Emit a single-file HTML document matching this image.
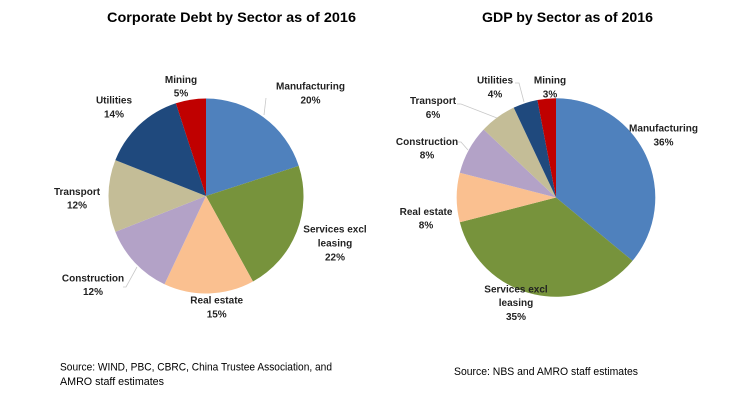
<!DOCTYPE html>
<html><head><meta charset="utf-8"><style>
html,body{margin:0;padding:0;background:#fff;}
svg{display:block;}
text{font-family:"Liberation Sans",Arial,sans-serif;fill:#000;}
.t{font-weight:bold;font-size:14px;}
.l{font-weight:bold;font-size:10px;fill:#222;}
.s{font-size:11px;}
</style></head><body>
<svg width="732" height="400" viewBox="0 0 732 400" xmlns="http://www.w3.org/2000/svg">
<rect width="732" height="400" fill="#fff"/>
<!-- Titles -->
<text class="t" x="107" y="22" textLength="249" lengthAdjust="spacingAndGlyphs">Corporate Debt by Sector as of 2016</text>
<text class="t" x="482" y="22" textLength="171" lengthAdjust="spacingAndGlyphs">GDP by Sector as of 2016</text>

<!-- Left pie -->
<g>
<path d="M206,196 L206,98.5 A97.5,97.5 0 0 1 298.73,165.87 Z" fill="#4F81BD"/>
<path d="M206,196 L298.73,165.87 A97.5,97.5 0 0 1 252.97,281.44 Z" fill="#77933C"/>
<path d="M206,196 L252.97,281.44 A97.5,97.5 0 0 1 164.49,284.22 Z" fill="#FAC090"/>
<path d="M206,196 L164.49,284.22 A97.5,97.5 0 0 1 115.35,231.89 Z" fill="#B3A2C7"/>
<path d="M206,196 L115.35,231.89 A97.5,97.5 0 0 1 115.35,160.11 Z" fill="#C4BD97"/>
<path d="M206,196 L115.35,160.11 A97.5,97.5 0 0 1 175.87,103.27 Z" fill="#1F497D"/>
<path d="M206,196 L175.87,103.27 A97.5,97.5 0 0 1 206,98.5 Z" fill="#C00000"/>
</g>
<!-- Left leader lines -->
<polyline points="266,98 264,115" fill="none" stroke="#c8c8c8" stroke-width="0.8"/>
<polyline points="123,287 126,287 137,267" fill="none" stroke="#c8c8c8" stroke-width="0.8"/>

<!-- Left labels -->
<g class="l" text-anchor="middle">
<text class="l" x="181" y="83">Mining</text>
<text class="l" x="181" y="96.5">5%</text>
<text class="l" x="310.5" y="89.5">Manufacturing</text>
<text class="l" x="310.5" y="103.3">20%</text>
<text class="l" x="114" y="103.3">Utilities</text>
<text class="l" x="114" y="117.3">14%</text>
<text class="l" x="77" y="195">Transport</text>
<text class="l" x="77" y="208.5">12%</text>
<text class="l" x="335" y="232.7">Services excl</text>
<text class="l" x="335" y="246.7">leasing</text>
<text class="l" x="335" y="260.7">22%</text>
<text class="l" x="93" y="281.7">Construction</text>
<text class="l" x="93" y="295.2">12%</text>
<text class="l" x="216.7" y="303.3">Real estate</text>
<text class="l" x="216.7" y="317.3">15%</text>
</g>

<!-- Right pie -->
<g>
<path d="M556,197.5 L556,98.2 A99.3,99.3 0 0 1 632.51,260.8 Z" fill="#4F81BD"/>
<path d="M556,197.5 L632.51,260.8 A99.3,99.3 0 0 1 459.82,222.2 Z" fill="#77933C"/>
<path d="M556,197.5 L459.82,222.2 A99.3,99.3 0 0 1 459.82,172.8 Z" fill="#FAC090"/>
<path d="M556,197.5 L459.82,172.8 A99.3,99.3 0 0 1 483.61,129.52 Z" fill="#B3A2C7"/>
<path d="M556,197.5 L483.61,129.52 A99.3,99.3 0 0 1 513.72,107.65 Z" fill="#C4BD97"/>
<path d="M556,197.5 L513.72,107.65 A99.3,99.3 0 0 1 537.39,99.96 Z" fill="#1F497D"/>
<path d="M556,197.5 L537.39,99.96 A99.3,99.3 0 0 1 556,98.2 Z" fill="#C00000"/>
</g>
<!-- Right leader lines -->
<polyline points="515,83 519,83 524,102" fill="none" stroke="#c8c8c8" stroke-width="0.8"/>
<polyline points="457,104 461,104 497,118" fill="none" stroke="#c8c8c8" stroke-width="0.8"/>
<polyline points="458,142 461,142 468,150" fill="none" stroke="#c8c8c8" stroke-width="0.8"/>

<!-- Right labels -->
<g text-anchor="middle">
<text class="l" x="495" y="83.3">Utilities</text>
<text class="l" x="495" y="97.3">4%</text>
<text class="l" x="550" y="83.3">Mining</text>
<text class="l" x="550" y="97.3">3%</text>
<text class="l" x="433" y="103.8">Transport</text>
<text class="l" x="433" y="118">6%</text>
<text class="l" x="427" y="145">Construction</text>
<text class="l" x="427" y="158.5">8%</text>
<text class="l" x="663.5" y="131.5">Manufacturing</text>
<text class="l" x="663.5" y="145.5">36%</text>
<text class="l" x="426" y="215">Real estate</text>
<text class="l" x="426" y="228.5">8%</text>
<text class="l" x="516" y="292.3">Services excl</text>
<text class="l" x="516" y="306">leasing</text>
<text class="l" x="516" y="320">35%</text>
</g>

<!-- Sources -->
<text class="s" x="60" y="370.7" textLength="272" lengthAdjust="spacingAndGlyphs">Source: WIND, PBC, CBRC, China Trustee Association, and</text>
<text class="s" x="60" y="385" textLength="104" lengthAdjust="spacingAndGlyphs">AMRO staff estimates</text>
<text class="s" x="454" y="375" textLength="184" lengthAdjust="spacingAndGlyphs">Source: NBS and AMRO staff estimates</text>
</svg>
</body></html>
